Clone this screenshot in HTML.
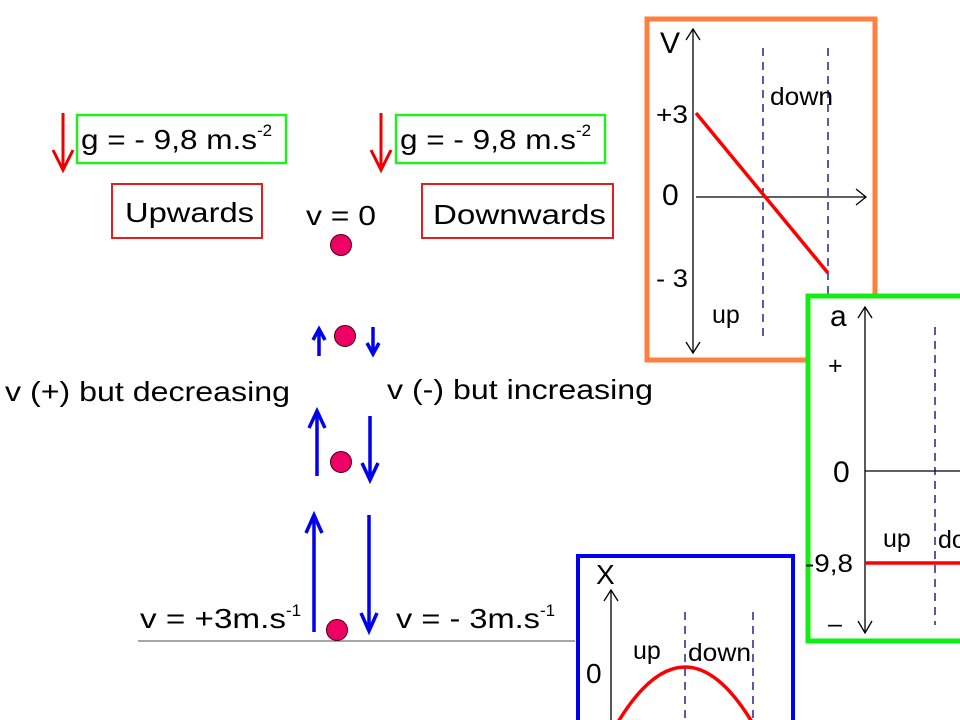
<!DOCTYPE html>
<html><head><meta charset="utf-8"><style>
html,body{margin:0;padding:0;background:#fff;width:960px;height:720px;overflow:hidden}
svg text{font-family:"Liberation Sans",sans-serif;fill:#000}
</style></head><body>
<svg width="960" height="720" viewBox="0 0 960 720" xmlns="http://www.w3.org/2000/svg">
<g font-size="28">
<line x1="63" y1="113" x2="63" y2="168" stroke="#e00" stroke-width="3"/>
<path d="M53,150 L63,170 L73,150" fill="none" stroke="#e00" stroke-width="3"/>
<line x1="381" y1="113" x2="381" y2="168" stroke="#e00" stroke-width="3"/>
<path d="M371,150 L381,170 L391,150" fill="none" stroke="#e00" stroke-width="3"/>
<rect x="77" y="115" width="209" height="48" fill="none" stroke="#22ee22" stroke-width="2.5"/>
<text x="81" y="149" textLength="176" lengthAdjust="spacingAndGlyphs">g = - 9,8 m.s</text><text x="257" y="136" font-size="17">-2</text>
<rect x="396" y="115" width="209" height="48" fill="none" stroke="#22ee22" stroke-width="2.5"/>
<text x="400" y="149" textLength="176" lengthAdjust="spacingAndGlyphs">g = - 9,8 m.s</text><text x="576" y="136" font-size="17">-2</text>
<rect x="112" y="184" width="150" height="54" fill="none" stroke="#e02020" stroke-width="2"/>
<text x="125" y="222" textLength="129" lengthAdjust="spacingAndGlyphs">Upwards</text>
<rect x="422" y="184" width="191" height="54" fill="none" stroke="#e02020" stroke-width="2"/>
<text x="433" y="224" textLength="173" lengthAdjust="spacingAndGlyphs">Downwards</text>
<text x="306" y="225" textLength="70" lengthAdjust="spacingAndGlyphs">v = 0</text>
<text x="5" y="401" textLength="285" lengthAdjust="spacingAndGlyphs">v (+) but decreasing</text>
<text x="387" y="399" textLength="266" lengthAdjust="spacingAndGlyphs">v (-) but increasing</text>
<text x="140" y="628" textLength="146" lengthAdjust="spacingAndGlyphs">v = +3m.s</text><text x="286" y="616" font-size="17">-1</text>
<text x="396" y="628" textLength="144" lengthAdjust="spacingAndGlyphs">v = - 3m.s</text><text x="540" y="616" font-size="17">-1</text>
</g>
<line x1="138" y1="641" x2="575" y2="641" stroke="#888" stroke-width="1.5"/>
<g stroke="#0000ee" stroke-width="3.5" fill="none">
<line x1="319" y1="356" x2="319" y2="330"/><path d="M313,340 L319,329 L325,340"/>
<line x1="373" y1="327" x2="373" y2="353"/><path d="M367,343 L373,354 L379,343"/>
<line x1="317" y1="476" x2="317" y2="412"/><path d="M309,428 L317,411 L325,428"/>
<line x1="370" y1="416" x2="370" y2="479"/><path d="M362,463 L370,480 L378,463"/>
<line x1="314" y1="632" x2="314" y2="516"/><path d="M306,533 L314,515 L322,533"/>
<line x1="369" y1="515" x2="369" y2="630"/><path d="M361,613 L369,631 L377,613"/>
</g>
<g fill="#ee0066" stroke="#400" stroke-width="1">
<circle cx="341" cy="245" r="10.5"/>
<circle cx="345" cy="336" r="10.5"/>
<circle cx="341" cy="462" r="10.5"/>
<circle cx="337" cy="630" r="10.5"/>
</g>
<rect x="647" y="19" width="228" height="341" fill="#fff" stroke="#ff7f3f" stroke-width="5"/>
<line x1="693" y1="30" x2="693" y2="352" stroke="#000" stroke-width="1.3"/>
<path d="M686,40 L693,29 L700,40 M686,342 L693,353 L700,342" fill="none" stroke="#000" stroke-width="1.3"/>
<line x1="696" y1="197" x2="865" y2="197" stroke="#000" stroke-width="1.3"/>
<path d="M856,189 L866,197 L856,205" fill="none" stroke="#000" stroke-width="1.3"/>
<g stroke="#000080" stroke-width="1.3" stroke-dasharray="8,6">
<line x1="763" y1="48" x2="763" y2="340"/>
<line x1="828" y1="48" x2="828" y2="300"/>
</g>
<line x1="696" y1="113" x2="828" y2="273" stroke="#f00" stroke-width="3.5"/>
<g font-size="30"><text x="660" y="53">V</text><text x="662" y="205">0</text></g>
<g font-size="25"><text x="656" y="123" textLength="32" lengthAdjust="spacingAndGlyphs">+3</text><text x="656" y="287" textLength="32" lengthAdjust="spacingAndGlyphs">- 3</text><text x="770" y="105" textLength="63" lengthAdjust="spacingAndGlyphs">down</text><text x="712" y="323">up</text></g>
<rect x="808" y="296" width="160" height="345" fill="#fff" stroke="#11ee11" stroke-width="5"/>
<line x1="865" y1="307" x2="865" y2="632" stroke="#000" stroke-width="1.3"/>
<path d="M858,318 L865,307 L872,318 M858,621 L865,633 L872,621" fill="none" stroke="#000" stroke-width="1.3"/>
<line x1="865" y1="471" x2="960" y2="471" stroke="#000" stroke-width="1.3"/>
<line x1="935" y1="327" x2="935" y2="625" stroke="#000080" stroke-width="1.3" stroke-dasharray="8,6"/>
<line x1="865" y1="563" x2="960" y2="563" stroke="#f00" stroke-width="3.5"/>
<g font-size="30"><text x="830" y="326">a</text><text x="833" y="482">0</text></g>
<g font-size="25"><text x="828" y="374">+</text><text x="883" y="547">up</text><text x="938" y="548">do</text><text x="805" y="572" textLength="48" lengthAdjust="spacingAndGlyphs">-9,8</text><text x="828" y="632">–</text></g>
<rect x="578" y="556" width="215" height="170" fill="#fff" stroke="#0000ee" stroke-width="4"/>
<line x1="611" y1="590" x2="611" y2="720" stroke="#000" stroke-width="1.3"/>
<path d="M604,601 L611,590 L618,601" fill="none" stroke="#000" stroke-width="1.3"/>
<g stroke="#000080" stroke-width="1.3" stroke-dasharray="8,6">
<line x1="685" y1="612" x2="685" y2="720"/>
<line x1="753" y1="612" x2="753" y2="720"/>
</g>
<path d="M618,722 Q685,612 752,722" fill="none" stroke="#f00" stroke-width="3.5"/>
<g font-size="28"><text x="596" y="584">X</text><text x="586" y="683">0</text></g>
<g font-size="25"><text x="633" y="659">up</text><text x="688" y="661" textLength="63" lengthAdjust="spacingAndGlyphs">down</text></g>
</svg>
</body></html>
